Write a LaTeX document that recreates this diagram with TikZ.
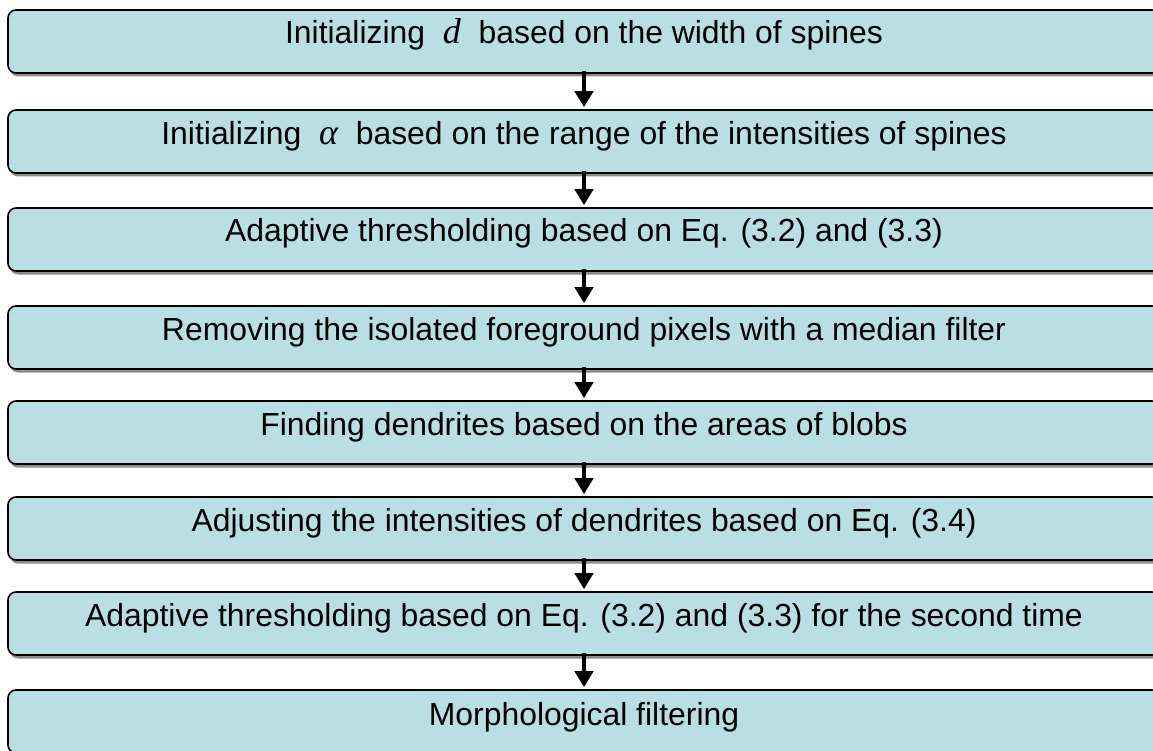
\documentclass[tikz,border=0pt]{standalone}
\usepackage{fontspec}
\setmainfont{Liberation Sans}
\newfontfamily\symserif{Liberation Serif}
\usetikzlibrary{arrows.meta,shadows}
\definecolor{boxfill}{RGB}{186,223,227}
\newcommand{\mvar}[1]{{\symserif\itshape\fontsize{36}{36}\selectfont #1}}
\begin{document}
\begin{tikzpicture}[x=1pt,y=-1pt,
  stepbox/.style={draw=black, line width=1.6pt, fill=boxfill, rounded corners=8pt,
    minimum width=1152pt, minimum height=63pt, inner sep=0pt,
    drop shadow={shadow xshift=2pt, shadow yshift=-3.5pt, fill=black!45, opacity=1}},
  txt/.style={anchor=base, inner sep=0pt, font=\fontsize{31.9}{36}\selectfont},
  arr/.style={line width=4.5pt, -{Triangle[width=18pt,length=16pt]}, shorten >=2pt}]
\useasboundingbox (0,0) rectangle (1153,751);
\begin{scope}
\clip (0,0) rectangle (1153,751);
\foreach \n/\t in {1/10,2/110,3/208,4/306,5/401,6/497,7/592,8/690}{
  \node[stepbox] (b\n) at (584,\t+31.5) {};
}
\node[txt] (t1) at (584,44) {Initializing\ \ \mvar{d}\ \ based on the width of spines};
\node[txt] (t2) at (584,145) {Initializing\ \ \mvar{α}\ \ based on the range of the intensities of spines};
\node[txt] (t3) at (584,242) {Adaptive thresholding based on Eq. (3.2) and (3.3)};
\node[txt] (t4) at (584,340) {Removing the isolated foreground pixels with a median filter};
\node[txt] (t5) at (584,435) {Finding dendrites based on the areas of blobs};
\node[txt] (t6) at (584,531) {Adjusting the intensities of dendrites based on Eq. (3.4)};
\node[txt] (t7) at (584,626) {Adaptive thresholding based on Eq. (3.2) and (3.3) for the second time};
\node[txt] (t8) at (584,725) {Morphological filtering};
\foreach \a/\b in {1/2,2/3,3/4,4/5,5/6,6/7,7/8}{
  \draw[arr] ([yshift=3pt]b\a.south) -- (b\b.north);
}
\end{scope}
\end{tikzpicture}
\end{document}
